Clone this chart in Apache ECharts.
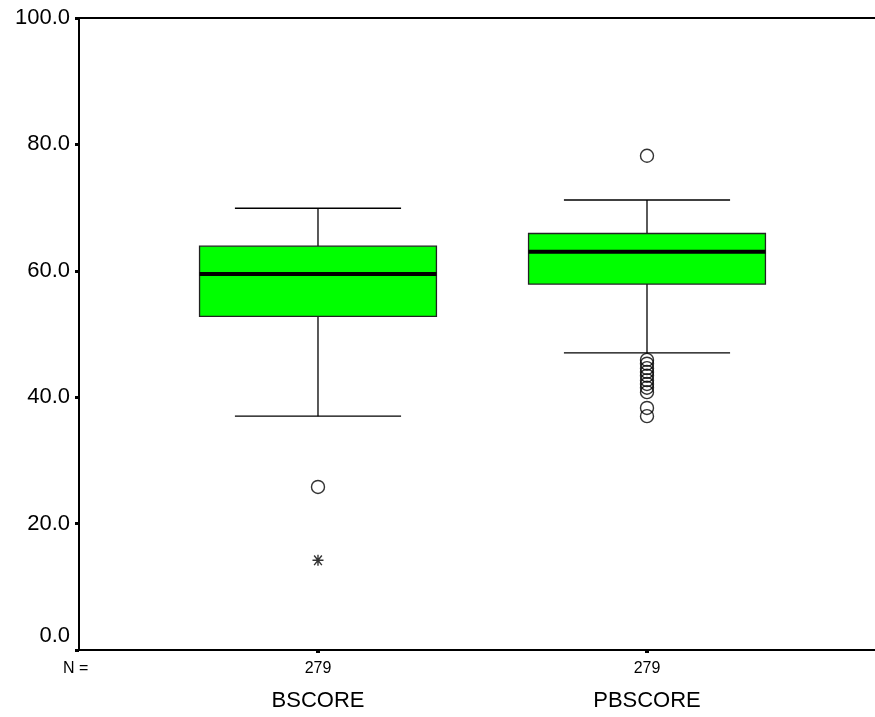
<!DOCTYPE html>
<html>
<head>
<meta charset="utf-8">
<script src="https://cdn.jsdelivr.net/npm/echarts@6/dist/echarts.min.js"></script>
<style>
html,body{margin:0;padding:0;background:#fff;}
#chart{width:875px;height:717px;}
</style>
</head>
<body>
<div id="chart"></div>
<script>
// ---- data ----
var categories = ['BSCORE', 'PBSCORE'];
var counts = [279, 279];
var whiskerLow = [37.0, 47.0];
var q1 = [52.8, 57.9];
var median = [59.5, 63.0];
var q3 = [63.9, 65.9];
var whiskerHigh = [69.9, 71.2];
var outliersB = [25.8];
var outliersPB = [78.2, 45.9, 45.3, 44.6, 44.0, 43.4, 42.7, 42.1, 41.5, 40.8, 38.3, 37.0];
var extremesB = [14.2];
var yTicks = [0, 20, 40, 60, 80, 100];

// ---- build ----
var positions = categories.map(function (c, i) { return i + 1; });
var boxData = positions.map(function (p, i) {
  return [p, whiskerLow[i], q1[i], median[i], q3[i], whiskerHigh[i]];
});
var outlierData = outliersB.map(function (v) { return [positions[0], v]; })
  .concat(outliersPB.map(function (v) { return [positions[1], v]; }));
var extremeData = extremesB.map(function (v) { return [positions[0], v]; });

var FONT = '"Liberation Sans", Arial, sans-serif';
var XMIN = 0.2736, XMAX = 2.693;
var chart = echarts.init(document.getElementById('chart'), null, {renderer: 'canvas'});

var option = {
  animation: false,
  grid: {left: 79, top: 18, right: 0, bottom: 67, show: false},
  xAxis: [{
    type: 'value', min: XMIN, max: XMAX, position: 'bottom',
    splitLine: {show: false},
    axisLine: {show: true, onZero: false, lineStyle: {color: '#000', width: 2}},
    axisTick: {show: true, customValues: positions, length: 3, lineStyle: {color: '#000', width: 4}},
    axisLabel: {show: true, customValues: positions, margin: 11, color: '#000', fontFamily: FONT, fontSize: 16,
      formatter: function (v) { var i = Math.round(v) - 1; return counts[i] != null ? String(counts[i]) : ''; }}
  }, {
    type: 'value', min: XMIN, max: XMAX, position: 'bottom', offset: 36,
    splitLine: {show: false},
    axisLine: {show: false}, axisTick: {show: false},
    axisLabel: {show: true, customValues: positions, margin: 4, color: '#000', fontFamily: FONT, fontSize: 22,
      formatter: function (v) { var i = Math.round(v) - 1; return categories[i] || ''; }}
  }, {
    type: 'value', min: XMIN, max: XMAX, position: 'top',
    splitLine: {show: false},
    axisLine: {show: true, onZero: false, lineStyle: {color: '#000', width: 2}},
    axisTick: {show: false}, axisLabel: {show: false}
  }],
  yAxis: {
    type: 'value', min: 0, max: 100, interval: 20,
    splitLine: {show: false},
    axisLine: {show: true, onZero: false, lineStyle: {color: '#000', width: 2}},
    axisTick: {show: true, customValues: yTicks, length: 4, lineStyle: {color: '#000', width: 3}},
    axisLabel: {color: '#000', fontFamily: FONT, fontSize: 22, margin: 9,
      formatter: function (v) { return v === 0 ? '{z|' + v.toFixed(1) + '}' : v.toFixed(1); },
      rich: {z: {fontFamily: FONT, fontSize: 22, color: '#000', padding: [0, 0, 28, 0]}}}
  },
  graphic: [{
    type: 'text', left: 63, top: 661,
    style: {text: 'N =', fill: '#000', font: '16px ' + FONT}
  }],
  series: [{
    type: 'custom',
    xAxisIndex: 0,
    data: boxData,
    encode: {x: 0, y: [1, 2, 3, 4, 5]},
    renderItem: function (params, api) {
      var x = api.value(0);
      var lo = api.coord([x, api.value(1)]);
      var b1 = api.coord([x, api.value(2)]);
      var md = api.coord([x, api.value(3)]);
      var b3 = api.coord([x, api.value(4)]);
      var hi = api.coord([x, api.value(5)]);
      var bw = api.size([0.72, 0])[0];
      var cw = api.size([0.505, 0])[0];
      var cx = lo[0];
      var ls = {stroke: '#000', lineWidth: 1.3};
      return {
        type: 'group',
        children: [
          {type: 'line', shape: {x1: cx, y1: b3[1], x2: cx, y2: hi[1]}, style: ls},
          {type: 'line', shape: {x1: cx, y1: b1[1], x2: cx, y2: lo[1]}, style: ls},
          {type: 'line', shape: {x1: cx - cw / 2, y1: hi[1], x2: cx + cw / 2, y2: hi[1]}, style: ls},
          {type: 'line', shape: {x1: cx - cw / 2, y1: lo[1], x2: cx + cw / 2, y2: lo[1]}, style: ls},
          {type: 'rect', shape: {x: cx - bw / 2, y: b3[1], width: bw, height: b1[1] - b3[1]},
            style: {fill: '#00ff00', stroke: '#222', lineWidth: 1.3}},
          {type: 'line', shape: {x1: cx - bw / 2, y1: md[1], x2: cx + bw / 2, y2: md[1]},
            style: {stroke: '#000', lineWidth: 4}}
        ]
      };
    }
  }, {
    type: 'scatter',
    data: outlierData,
    symbol: 'circle',
    symbolSize: 13,
    itemStyle: {color: 'rgba(0,0,0,0)', borderColor: '#000', borderWidth: 1.4},
    z: 5
  }, {
    type: 'scatter',
    data: extremeData,
    symbol: 'path://M0,5L10,5M5,1L5,9M1.5,1.5L8.5,8.5M8.5,1.5L1.5,8.5',
    symbolSize: 11,
    itemStyle: {color: 'rgba(0,0,0,0)', borderColor: '#000', borderWidth: 1.4},
    z: 5
  }]
};
chart.setOption(option);
</script>
</body>
</html>
